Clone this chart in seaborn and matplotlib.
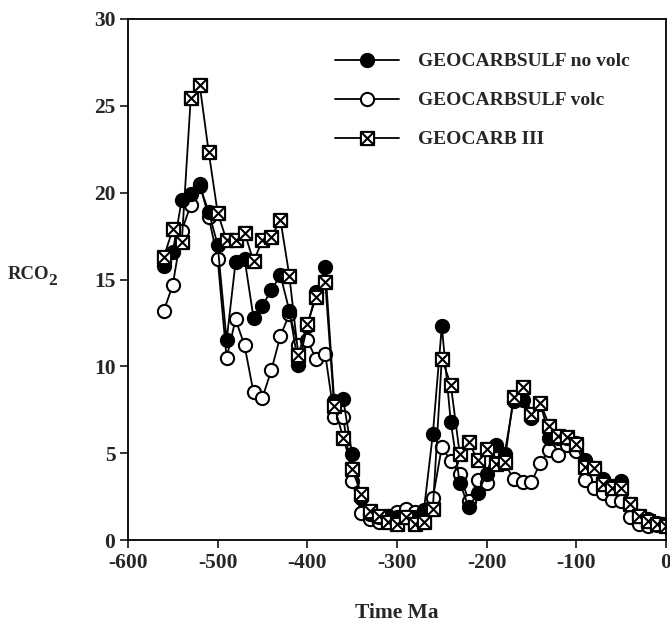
import numpy as np
import pandas as pd
import matplotlib
matplotlib.use("Agg")
import matplotlib.pyplot as plt
from matplotlib.path import Path
import seaborn as sns

# Time before present (Ma), one model step every 10 Myr
time_ma = list(range(-560, 1, 10))

geocarbsulf_no_volc = [
    15.8, 16.6, 19.6, 19.9, 20.4, 18.9, 17.0, 11.5, 16.0, 16.2,
    12.8, 13.5, 14.4, 15.25, 13.2, 10.1, 12.3, 14.3, 15.7, 8.0,
    8.1, 4.95, 2.4, 1.5, 1.3, 1.4, 1.3, 1.3, 1.3, 1.7,
    6.1, 12.3, 6.8, 3.3, 1.9, 2.7, 3.8, 5.45, 4.95, 8.0,
    8.05, 7.0, 7.85, 5.9, 5.9, 5.85, 5.6, 4.6, 4.15, 3.5,
    3.1, 3.4, 2.1, 1.4, 1.2, 1.0, 0.85,
]

geocarbsulf_volc = [
    13.2, 14.7, 17.8, 19.3, 20.5, 18.6, 16.2, 10.5, 12.7, 11.2,
    8.5, 8.2, 9.8, 11.75, 13.0, 11.2, 11.5, 10.4, 10.7, 7.1,
    7.1, 3.4, 1.55, 1.2, 1.05, 1.4, 1.6, 1.8, 1.6, 1.5,
    2.4, 5.35, 4.55, 3.8, 2.25, 3.45, 3.3, 5.2, 4.45, 3.5,
    3.35, 3.35, 4.45, 5.2, 4.9, 5.45, 5.1, 3.45, 3.0, 2.7,
    2.3, 2.25, 1.3, 0.9, 0.8, 0.85, 0.8,
]

geocarb_iii = [
    16.3, 17.9, 17.15, 25.45, 26.2, 22.35, 18.85, 17.25, 17.25, 17.7,
    16.05, 17.25, 17.45, 18.45, 15.2, 10.65, 12.45, 14.0, 14.85, 7.7,
    5.9, 4.1, 2.65, 1.65, 1.4, 1.05, 0.95, 1.3, 0.95, 1.05,
    1.8, 10.45, 8.95, 4.95, 5.65, 4.6, 5.25, 4.35, 4.5, 8.25,
    8.8, 7.25, 7.9, 6.55, 6.0, 5.95, 5.5, 4.2, 4.15, 3.2,
    3.0, 3.0, 2.1, 1.4, 1.1, 0.95, 0.8,
]

series_labels = ["GEOCARBSULF no volc", "GEOCARBSULF volc", "GEOCARB III"]

df = pd.DataFrame({
    "time": time_ma,
    "no_volc": geocarbsulf_no_volc,
    "volc": geocarbsulf_volc,
    "g3": geocarb_iii,
})

# Square marker with a diagonal cross inside
boxed_x = Path(
    [(-1, -1), (1, -1), (1, 1), (-1, 1), (-1, -1),
     (-1, -1), (1, 1), (-1, 1), (1, -1)],
    [Path.MOVETO, Path.LINETO, Path.LINETO, Path.LINETO, Path.CLOSEPOLY,
     Path.MOVETO, Path.LINETO, Path.MOVETO, Path.LINETO],
)

sns.set_style("ticks")
plt.rcParams["font.family"] = ["Liberation Serif", "DejaVu Serif"]
plt.rcParams["font.weight"] = "bold"
plt.rcParams["axes.unicode_minus"] = False

fig = plt.figure(figsize=(6.7, 6.25), dpi=100)
ax = fig.add_axes([0.191, 0.136, 0.803, 0.8336])

common = dict(color="black", linewidth=1.3, markeredgecolor="black",
              markeredgewidth=1.5, ax=ax, legend=False)

sns.lineplot(data=df, x="time", y="volc", marker="o", markersize=9.5,
             markerfacecolor="white", **common)
sns.lineplot(data=df, x="time", y="no_volc", marker="o", markersize=9.5,
             markerfacecolor="black", **common)
sns.lineplot(data=df, x="time", y="g3", marker=boxed_x, markersize=9.5,
             markerfacecolor="white", **common)

lines = ax.get_lines()
handles = [lines[1], lines[0], lines[2]]
ax.legend(handles, series_labels, loc="upper left", bbox_to_anchor=(0.385, 0.935),
          frameon=False, handlelength=3.3, handletextpad=0.95,
          labelspacing=1.1, borderaxespad=0, borderpad=0,
          prop={"family": ["Liberation Serif"], "weight": "bold", "size": 14})

ax.set_xlim(-600, 0)
ax.set_ylim(0, 30)
ax.set_xticks(range(-600, 1, 100))
ax.set_yticks(range(0, 31, 5))
ax.tick_params(axis="both", direction="out", length=6, width=1.3,
               labelsize=15.5, pad=3)
for lab in ax.get_xticklabels() + ax.get_yticklabels():
    lab.set_fontweight("bold")

for side in ["left", "bottom", "right", "top"]:
    ax.spines[side].set_visible(True)
    ax.spines[side].set_linewidth(1.3)
    ax.spines[side].set_color("black")

ax.set_xlabel("Time Ma", fontsize=15.5, fontweight="bold", labelpad=22)

# Y label: "RCO" with a large lowered "2"
ax.set_ylabel("RCO", fontsize=13.5, fontweight="bold", rotation=0,
              ha="center", va="center")
ax.yaxis.set_label_coords(-0.185, 0.51)
ax.annotate("2", xy=(1, 0), xycoords=ax.yaxis.label, xytext=(-0.5, -4.3),
            textcoords="offset points", ha="left", va="bottom",
            fontsize=12.5, fontweight="bold")

fig.savefig("out.png", dpi=100)
